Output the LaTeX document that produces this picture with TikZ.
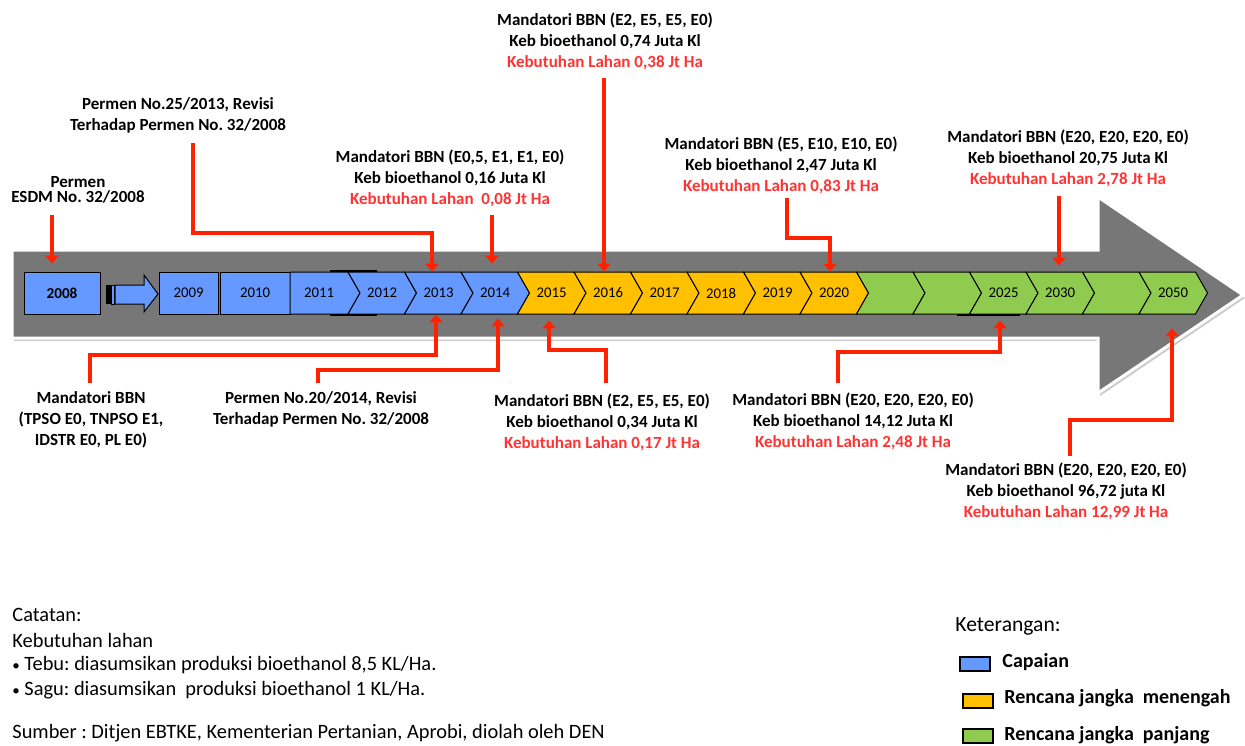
\documentclass[tikz,border=0pt]{standalone}
\usepackage{fontspec}
\setmainfont{Carlito}
\usetikzlibrary{arrows.meta,calc,shadows}
\definecolor{CapBlue}  {HTML}{6699FF}
\definecolor{MidGold}  {HTML}{FFC000}
\definecolor{LongGreen}{HTML}{8FCB4E}
\definecolor{BandGray} {HTML}{777777}
\definecolor{LeadRed}  {HTML}{FF2200}
\definecolor{NeedRed}  {HTML}{FF3333}
\frenchspacing
\newcommand\smallbul{{\fontsize{7.5}{8}\selectfont\textbullet}}

\begin{document}
\begin{tikzpicture}[x=0.5pt,y=-0.5pt,
    chev/.style={draw=black,line width=0.5pt},
    yr/.style={font=\fontsize{7.4}{8}\selectfont,inner sep=0pt,minimum width=20pt,minimum height=21pt},
    lbl/.style={font=\fontsize{8.5}{10.5}\selectfont\bfseries,align=center,inner sep=0pt},
    lead/.style={draw=LeadRed,line width=2.2pt,-{Triangle[length=4pt,width=6.5pt]}},
    note/.style={font=\fontsize{10.2}{12}\selectfont,anchor=west,inner sep=0pt},
    key/.style={draw=black,line width=1pt,minimum width=15pt,minimum height=7pt,inner sep=0pt},
    keytxt/.style={font=\fontsize{10}{12}\selectfont\bfseries,anchor=west,inner sep=0pt}
  ]
    \useasboundingbox (0,0) rectangle (1245,745);
    % the big grey arrow
    \filldraw[draw=white,line width=1.5pt,fill=BandGray,
      drop shadow={opacity=0.4,shadow xshift=1pt,shadow yshift=-1.5pt}]
      (12,250) -- (1098,250) -- (1098,197) -- (1243,295) -- (1098,393) -- (1098,338) -- (12,338) -- cycle;

    % years
    \node[chev,fill=CapBlue,minimum width=38pt,minimum height=21pt,inner sep=0pt,
      font=\fontsize{7.6}{8}\selectfont\bfseries] (b2008) at (62,293) {2008};
    \fill (106,285) rectangle (111,304);
    \filldraw[chev,fill=CapBlue] (111,285) rectangle (114,304);
    \filldraw[chev,fill=CapBlue] (115,285) -- (144,285) -- (144,275) -- (158,294)
      -- (144,312) -- (144,304) -- (115,304) -- cycle;
    \node[chev,fill=CapBlue,minimum width=29.5pt,minimum height=21pt,inner sep=0pt,
      font=\fontsize{7.4}{8}\selectfont] (c2009) at (188.5,293) {2009};
    \node[chev,fill=CapBlue,minimum width=35pt,minimum height=21pt,inner sep=0pt,
      font=\fontsize{7.4}{8}\selectfont] (c2010) at (255,293) {2010};
    \filldraw[chev,fill=CapBlue] (290,272) -- (348,272) -- (360,293) -- (348,314) -- (290,314) -- cycle;
    \node[yr] (c2011) at (319,293) {2011};
    \foreach \i/\yr/\col in {0/2012/CapBlue,1/2013/CapBlue,2/2014/CapBlue,
        3/2015/MidGold,4/2016/MidGold,5/2017/MidGold,6/2018/MidGold,7/2019/MidGold,8/2020/MidGold,
        9//LongGreen,10//LongGreen,11/2025/LongGreen,12/2030/LongGreen,13//LongGreen,14/2050/LongGreen}{
      \filldraw[chev,fill=\col] (348+56.5*\i,272) -- ++(56.5,0) -- ++(12,21) -- ++(-12,21)
        -- ++(-56.5,0) -- ++(12,-21) -- cycle;
      \node[yr] (c\i) at (382+56.5*\i,293) {\yr};
    }
    \draw[line width=1.2pt] (330,271) -- (377,271) (330,315) -- (377,315) (957,315) -- (1020,315);

    % labels above
    \node[lbl,font=\fontsize{8.5}{7.5}\selectfont\bfseries] (t1) at (78,190) {Permen\\ESDM No. 32/2008};
    \node[lbl] (t2) at (178,115) {Permen No.25/2013, Revisi\\Terhadap Permen No. 32/2008};
    \node[lbl] (t3) at (450,178) {Mandatori BBN (E0,5, E1, E1, E0)\\Keb bioethanol 0,16 Juta Kl\\
      \textcolor{NeedRed}{Kebutuhan Lahan \ 0,08 Jt Ha}};
    \node[lbl] (t4) at (605,41) {Mandatori BBN (E2, E5, E5, E0)\\Keb bioethanol 0,74 Juta Kl\\
      \textcolor{NeedRed}{Kebutuhan Lahan 0,38 Jt Ha}};
    \node[lbl] (t5) at (781,165) {Mandatori BBN (E5, E10, E10, E0)\\Keb bioethanol 2,47 Juta Kl\\
      \textcolor{NeedRed}{Kebutuhan Lahan 0,83 Jt Ha}};
    \node[lbl] (t6) at (1068,158) {Mandatori BBN (E20, E20, E20, E0)\\Keb bioethanol 20,75 Juta Kl\\
      \textcolor{NeedRed}{Kebutuhan Lahan 2,78 Jt Ha}};
    % labels below
    \node[lbl] (t7) at (91,420) {Mandatori BBN\\(TPSO E0, TNPSO E1,\\IDSTR E0, PL E0)};
    \node[lbl] (t8) at (321,409) {Permen No.20/2014, Revisi\\Terhadap Permen No. 32/2008};
    \node[lbl] (t9) at (602,422) {Mandatori BBN (E2, E5, E5, E0)\\Keb bioethanol 0,34 Juta Kl\\
      \textcolor{NeedRed}{Kebutuhan Lahan 0,17 Jt Ha}};
    \node[lbl] (t10) at (853,421) {Mandatori BBN (E20, E20, E20, E0)\\Keb bioethanol 14,12 Juta Kl\\
      \textcolor{NeedRed}{Kebutuhan Lahan 2,48 Jt Ha}};
    \node[lbl] (t11) at (1066,491) {Mandatori BBN (E20, E20, E20, E0)\\Keb bioethanol 96,72 juta Kl\\
      \textcolor{NeedRed}{Kebutuhan Lahan 12,99 Jt Ha}};

    % red leads
    \coordinate (s1) at (52,215);
    \coordinate (s2) at (193,143);  \coordinate (k2) at (432,233);
    \coordinate (s3) at (492,215);
    \coordinate (s4) at (604,78);
    \coordinate (s5) at (787,198);  \coordinate (k5) at (830,238);
    \coordinate (s6) at (1059,196);
    \coordinate (s7) at (90,383);   \coordinate (k7) at (436,355);
    \coordinate (s8) at (318,383);  \coordinate (k8) at (498,370);
    \coordinate (s9) at (606,383);  \coordinate (k9) at (549,350);
    \coordinate (s10) at (838,383); \coordinate (k10) at (1000,352);
    \coordinate (s11) at (1070,456);\coordinate (k11) at (1172,420);
    \draw[lead,shorten >=4pt] (s1) -- (s1 |- b2008.north);
    \draw[lead] (s2) |- (k2) -- (k2 |- c1.north);
    \draw[lead,shorten >=4pt] (s3) -- (s3 |- c2.north);
    \draw[lead] (s4) -- (s4 |- c4.north);
    \draw[lead] (s5) |- (k5) -- (k5 |- c8.north);
    \draw[lead,shorten >=3pt] (s6) -- (s6 |- c12.north);
    \draw[lead] (s7) |- (k7) -- (k7 |- c1.south);
    \draw[lead,shorten >=2pt] (s8) |- (k8) -- (k8 |- c2.south);
    \draw[lead,shorten >=3pt] (s9) |- (k9) -- (k9 |- c3.south);
    \draw[lead,shorten >=3pt] (s10) |- (k10) -- (k10 |- c11.south);
    \draw[lead,shorten >=7pt] (s11) |- (k11) -- (k11 |- c14.south);

    % notes
    \node[note] (n1) at (12,615) {Catatan:};
    \node[note] (n2) at (12,640) {Kebutuhan lahan};
    \node[note] (n3) at (12,665) {\smallbul{} Tebu: diasumsikan produksi bioethanol 8,5 KL/Ha.};
    \node[note] (n4) at (12,690) {\smallbul{} Sagu: diasumsikan \ produksi bioethanol 1 KL/Ha.};
    \node[note] (n5) at (12,733) {Sumber : Ditjen EBTKE, Kementerian Pertanian, Aprobi, diolah oleh DEN};

    % legend
    \node[note,font=\fontsize{10.8}{12}\selectfont] (kt) at (955,626) {Keterangan:};
    \node[key,fill=CapBlue] (key1) at (975,664) {};
    \node[keytxt] (lab1) at (1002,662) {Capaian};
    \node[key,fill=MidGold] (key2) at (978,701) {};
    \node[keytxt] (lab2) at (1004,698) {Rencana jangka \ menengah};
    \node[key,fill=LongGreen] (key3) at (978,736) {};
    \node[keytxt] (lab3) at (1004,735) {Rencana jangka \ panjang};
  \end{tikzpicture}
\end{document}
